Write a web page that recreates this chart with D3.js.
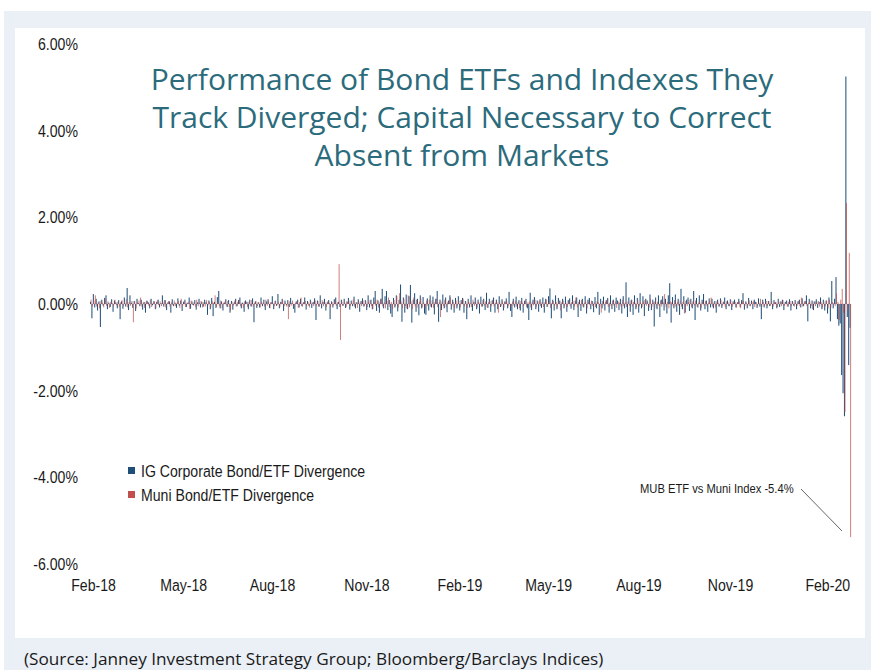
<!DOCTYPE html>
<html>
<head>
<meta charset="utf-8">
<script src="https://cdn.jsdelivr.net/npm/d3@7"></script>
<style>
  body { margin: 0; background: #fff; }
  svg { display: block; }
</style>
</head>
<body>
<div id="chart"></div>
<script>
// daily divergence (%), IG corporate bond ETF vs index, Feb-18 .. Mar-20
const igDivergence = [
  0.05,-0.33,0.23,-0.08,0.12,-0.15,0.06,-0.53,0.1,-0.04,0.14,0.2,-0.12,0.03,-0.07,0.11,-0.18,0.08,0.04,-0.1,
  0.09,-0.35,0.06,-0.11,0.15,-0.06,0.37,-0.14,0.2,0.03,-0.09,0.07,-0.16,0.12,0.02,-0.05,0.1,-0.13,0.05,-0.2,
  0.08,0.04,-0.1,0.12,-0.03,0.07,-0.12,0.05,0.1,-0.08,0.02,0.2,-0.06,0.09,-0.14,0.04,0.06,-0.2,0.11,-0.05,
  0.03,-0.09,0.13,-0.04,0.08,-0.16,0.05,0.1,-0.07,0.02,0.15,-0.11,0.06,-0.03,0.09,-0.13,0.04,0.12,-0.08,0.05,
  -0.06,0.1,0.04,-0.25,0.08,-0.12,0.14,-0.28,0.05,-0.09,0.16,0.3,-0.1,0.06,-0.15,0.03,0.11,-0.07,0.09,-0.2,
  0.07,-0.13,0.04,0.12,-0.05,0.09,0.15,-0.1,0.03,-0.18,0.08,0.05,-0.12,0.1,-0.06,0.13,-0.42,0.06,-0.09,0.04,
  -0.08,0.15,-0.05,0.1,-0.14,0.06,0.11,-0.09,0.04,0.18,-0.12,0.07,-0.04,0.23,-0.1,0.05,0.12,-0.16,0.08,-0.03,
  0.09,-0.07,0.14,0.03,-0.11,-0.2,0.06,0.1,-0.08,0.12,-0.05,0.04,0.15,-0.13,0.07,-0.04,0.1,-0.09,0.05,0.13,
  -0.37,0.08,-0.06,0.2,-0.1,0.05,0.12,-0.15,0.04,0.09,-0.35,0.06,-0.08,0.11,0.15,-0.12,0.05,-0.07,0.1,-0.04,
  0.12,-0.09,0.06,0.14,-0.13,0.08,-0.05,0.17,-0.1,0.04,0.11,-0.18,0.07,0.13,-0.06,0.09,-0.14,0.2,-0.08,0.1,
  -0.12,0.15,0.3,-0.16,0.08,-0.2,0.12,0.35,-0.1,0.18,0.3,-0.14,0.09,-0.22,-0.3,0.14,-0.08,0.2,-0.17,0.1,
  0.45,-0.41,0.15,-0.2,0.22,-0.12,0.18,0.44,-0.43,0.1,0.25,-0.18,0.12,-0.26,0.2,-0.1,0.16,-0.22,-0.25,0.13,
  -0.15,0.2,-0.08,0.17,-0.24,0.12,0.3,-0.41,0.1,-0.14,0.22,-0.1,0.15,-0.19,0.08,0.2,-0.13,0.1,-0.2,0.14,
  -0.1,0.18,-0.15,0.09,0.14,-0.2,0.07,-0.35,0.12,-0.08,0.2,-0.16,0.05,0.15,-0.12,0.1,-0.22,0.17,-0.06,0.12,
  -0.14,0.26,-0.09,0.12,-0.18,0.08,0.15,-0.2,0.1,-0.12,0.18,-0.07,0.11,-0.15,0.06,0.13,-0.1,0.28,-0.16,-0.3,
  0.12,-0.08,0.17,-0.12,0.09,-0.15,0.14,-0.2,0.07,0.12,-0.1,-0.37,0.26,-0.14,0.1,0.16,-0.12,0.08,-0.18,0.11,
  -0.09,0.15,-0.2,0.12,-0.07,0.18,0.36,-0.33,0.1,-0.15,0.2,-0.12,0.14,0.08,-0.33,0.12,-0.1,0.17,-0.18,0.09,
  0.13,-0.11,0.2,-0.14,0.08,0.15,-0.3,0.1,-0.16,0.12,-0.08,0.18,-0.22,0.1,0.14,-0.12,0.07,-0.19,0.16,-0.1,
  0.28,-0.25,0.12,-0.1,0.17,-0.15,0.09,0.14,-0.2,0.2,-0.12,0.1,-0.18,0.15,0.08,-0.14,0.12,-0.22,0.18,-0.1,
  0.5,-0.3,0.15,-0.18,0.1,-0.25,0.2,-0.12,0.14,-0.2,0.25,-0.1,0.18,-0.28,0.12,0.08,-0.16,0.22,-0.14,0.1,
  -0.52,0.15,-0.12,0.2,-0.3,0.1,0.18,-0.15,0.12,-0.22,0.2,0.48,-0.43,0.16,-0.1,0.22,-0.18,0.12,-0.25,0.35,
  -0.12,0.18,-0.2,0.1,0.15,-0.16,0.12,-0.1,0.3,-0.37,0.14,-0.08,0.2,-0.15,0.1,0.23,-0.12,0.08,-0.18,0.13,
  -0.08,0.12,-0.1,0.07,-0.2,0.1,-0.06,0.13,-0.09,0.05,0.15,-0.12,0.08,-0.05,0.11,-0.14,0.06,0.1,-0.08,0.04,
  0.12,-0.07,0.09,0.25,-0.13,0.06,-0.1,0.14,-0.05,0.08,-0.12,0.1,0.05,-0.09,0.13,-0.06,-0.35,0.1,-0.08,0.12,
  -0.1,0.07,-0.05,0.28,-0.12,0.09,0.04,-0.1,0.12,-0.07,0.06,0.1,-0.14,0.05,0.08,-0.06,0.11,-0.15,0.07,-0.04,
  0.09,-0.12,0.06,0.1,-0.08,0.13,-0.05,0.07,0.2,-0.4,0.12,-0.1,0.08,-0.14,0.06,0.11,-0.09,0.05,0.15,-0.12,
  0.1,-0.15,0.08,-0.22,0.15,-0.4,0.53,-0.1,0.12,0.62,-0.35,-0.5,-0.45,-1.64,-2.06,-2.59,5.25,-0.3,-1.41,-0.55
];

// daily divergence (%), muni bond ETF vs index
const muniDivergence = [
  0.1,-0.05,0.08,0.2,-0.06,0.04,-0.1,0.07,0.03,-0.08,0.12,-0.04,0.06,-0.09,0.05,0.02,-0.06,0.1,-0.03,0.05,
  -0.07,0.04,0.09,-0.05,0.03,0.11,-0.08,0.05,-0.04,0.07,-0.42,0.06,-0.1,0.04,0.08,0.15,-0.06,0.03,-0.09,0.05,
  0.06,-0.04,0.1,-0.07,0.03,0.05,-0.1,0.08,-0.03,0.06,-0.05,0.04,0.09,-0.08,0.02,0.07,-0.06,0.04,-0.03,0.08,
  -0.05,0.03,0.07,-0.09,0.12,-0.04,0.06,-0.07,0.03,0.05,-0.11,0.08,-0.02,0.04,-0.06,0.1,-0.05,0.03,0.07,-0.08,
  0.04,-0.06,0.09,-0.03,0.05,-0.08,0.06,0.03,0.2,-0.07,0.04,-0.05,0.08,-0.1,0.03,0.06,-0.04,0.07,-0.06,-0.15,
  0.05,-0.03,0.08,-0.06,0.04,0.1,-0.05,0.03,-0.09,0.06,0.02,-0.07,0.05,-0.04,0.09,-0.06,0.03,0.07,-0.05,0.04,
  -0.08,0.05,0.03,-0.06,0.1,-0.04,0.06,-0.1,0.04,0.02,-0.05,0.08,-0.03,0.05,-0.07,0.04,0.09,-0.05,0.03,-0.06,
  -0.35,0.06,-0.04,0.08,-0.07,0.03,0.05,-0.09,0.04,0.15,-0.06,0.03,0.07,-0.05,0.04,-0.08,0.06,0.02,-0.05,0.08,
  -0.04,0.07,-0.06,0.03,0.09,-0.05,0.04,-0.07,0.06,0.03,-0.08,0.05,-0.03,0.07,-0.05,0.04,0.92,-0.83,0.06,-0.04,
  0.05,-0.07,0.04,0.08,-0.05,0.03,0.1,-0.06,0.04,-0.09,0.06,0.03,-0.05,0.08,-0.04,0.06,-0.07,0.04,0.09,-0.05,
  -0.12,0.06,-0.04,0.1,-0.08,0.05,0.12,-0.06,0.04,-0.1,0.08,0.15,-0.07,0.05,-0.12,0.09,-0.05,0.18,-0.08,0.25,
  0.06,-0.1,0.12,-0.05,-0.1,0.2,-0.08,0.07,-0.12,0.15,-0.06,0.1,-0.09,0.05,0.13,-0.07,0.04,-0.1,0.08,-0.05,
  0.1,-0.06,0.08,-0.09,0.05,0.12,-0.07,0.04,-0.3,0.06,-0.05,0.1,-0.08,0.04,0.07,0.15,-0.06,0.05,-0.1,0.08,
  -0.05,0.07,-0.08,0.04,0.12,-0.06,0.05,-0.09,0.06,0.03,-0.07,0.1,-0.04,0.06,-0.08,0.05,0.03,-0.06,0.09,-0.04,
  0.06,-0.08,0.04,0.07,-0.05,0.1,-0.06,0.03,0.05,-0.2,0.08,-0.04,0.06,-0.09,0.04,0.07,-0.05,0.03,-0.07,0.06,
  -0.04,0.08,-0.06,0.05,-0.1,0.07,0.03,-0.05,0.09,-0.07,0.04,0.06,-0.08,0.05,-0.03,0.1,-0.06,0.04,0.07,-0.05,
  0.05,-0.07,0.04,0.1,-0.05,0.06,-0.09,0.03,0.07,-0.04,0.05,-0.08,0.06,-0.15,0.04,0.08,-0.05,0.03,-0.07,0.06,
  -0.05,0.04,0.07,-0.06,0.15,-0.08,0.05,-0.04,0.09,-0.06,0.03,0.06,-0.1,0.05,-0.03,0.08,-0.05,0.04,-0.07,0.06,
  0.04,-0.06,-0.2,0.07,-0.04,0.05,0.09,-0.07,0.03,-0.05,0.08,-0.04,0.06,-0.09,0.05,0.03,-0.06,0.1,-0.05,0.04,
  -0.07,0.06,-0.04,0.08,-0.06,0.05,0.03,-0.08,0.1,-0.05,0.04,-0.07,0.06,0.09,-0.04,0.05,-0.08,0.12,-0.06,0.04,
  0.06,-0.09,0.05,-0.04,0.08,-0.06,0.04,0.23,-0.07,0.05,-0.1,0.06,0.04,-0.05,0.09,-0.07,0.05,-0.04,0.08,-0.06,
  0.05,-0.22,0.07,-0.05,0.04,0.1,-0.07,0.06,-0.04,0.08,-0.06,0.03,0.05,-0.09,0.06,-0.04,0.07,-0.05,0.03,0.08,
  0.15,-0.06,0.04,-0.08,0.06,0.03,-0.05,0.09,-0.04,0.05,-0.07,0.06,0.04,-0.05,0.08,-0.06,0.03,0.05,-0.08,0.04,
  0.06,-0.1,0.04,0.07,-0.05,0.03,-0.06,0.08,-0.04,0.05,0.06,-0.07,0.04,-0.05,0.03,0.12,-0.06,0.05,-0.04,0.07,
  -0.05,0.06,-0.04,0.08,-0.06,0.03,0.05,-0.07,0.04,0.06,-0.05,0.09,-0.04,0.03,-0.06,0.05,0.07,-0.05,0.04,-0.06,
  0.05,-0.04,0.07,-0.05,0.15,-0.06,0.04,0.06,-0.05,0.03,0.08,-0.04,-0.12,0.06,-0.05,0.04,0.07,-0.06,0.05,-0.08,
  0.06,-0.05,0.08,-0.1,0.1,-0.08,0.05,0.02,-0.05,0.25,0.05,-0.37,0.1,0.35,-0.2,-2.49,2.33,-0.15,1.18,-5.38
];

// x-axis labels and the trading-day index they sit under
const tickLabels = ["Feb-18", "May-18", "Aug-18", "Nov-18", "Feb-19", "May-19", "Aug-19", "Nov-19", "Feb-20"];
const tickDays = [2, 66, 129, 196, 262, 325, 389, 454, 523];
const yTicks = [-6, -4, -2, 0, 2, 4, 6];

const seriesNames = ["IG Corporate Bond/ETF Divergence", "Muni Bond/ETF Divergence"];
const titleLines = ["Performance of Bond ETFs and Indexes They", "Track Diverged; Capital Necessary to Correct", "Absent from Markets"];

const W = 871, H = 670;
const margin = { top: 44, right: 20, bottom: 106, left: 90 };
// no narrow font installed, so squeeze Liberation Sans sideways
const narrow = "'Liberation Sans', Arial, sans-serif";
const squeeze = 0.83;

const svg = d3.select("#chart").append("svg")
    .attr("width", W)
    .attr("height", H);

// frame
svg.append("rect").attr("x", 4).attr("y", 11).attr("width", W - 4).attr("height", H - 11).attr("fill", "#ebf0f7");
svg.append("rect").attr("x", 15).attr("y", 28).attr("width", 850).attr("height", 610).attr("fill", "#fff");

const n = Math.min(igDivergence.length, muniDivergence.length);
const x = d3.scaleBand()
    .domain(d3.range(n))
    .range([margin.left, 851])
    .padding(0);
const y = d3.scaleLinear()
    .domain([-6, 6])
    .range([564, 44]);

const color = d3.scaleOrdinal()
    .domain(seriesNames)
    .range(["#1f4e79", "#c0504d"]);

// faint zero line
svg.append("line")
    .attr("x1", margin.left).attr("x2", 851)
    .attr("y1", y(0)).attr("y2", y(0))
    .attr("stroke", "#ecdcdc").attr("stroke-width", 1);

const bw = x.step() * 0.72;

svg.append("g").selectAll("rect")
    .data(igDivergence.slice(0, n))
    .join("rect")
    .attr("x", (d, i) => x(i))
    .attr("width", bw)
    .attr("y", d => y(Math.max(0, d)))
    .attr("height", d => Math.abs(y(d) - y(0)))
    .attr("fill", color(seriesNames[0]));

svg.append("g").selectAll("rect")
    .data(muniDivergence.slice(0, n))
    .join("rect")
    .attr("x", (d, i) => x(i) + x.step() * 0.45)
    .attr("width", bw * 0.85)
    .attr("y", d => y(Math.max(0, d)))
    .attr("height", d => Math.abs(y(d) - y(0)))
    .attr("fill", color(seriesNames[1]))
    .attr("fill-opacity", 0.85);

// y axis labels
const yAxis = svg.append("g")
    .attr("transform", "translate(78,0)")
    .call(d3.axisLeft(y).tickValues(yTicks).tickSize(0).tickPadding(0).tickFormat(d => d.toFixed(2) + "%"));
yAxis.select(".domain").remove();
yAxis.selectAll("text")
    .attr("transform", `scale(${squeeze},1)`)
    .attr("font-family", narrow)
    .attr("font-size", 17)
    .attr("fill", "#1a1a1a");

// x axis labels
const xAxis = svg.append("g")
    .attr("transform", "translate(0,575)")
    .call(d3.axisBottom(x).tickValues(tickDays).tickSize(0).tickPadding(4)
        .tickFormat(d => tickLabels[tickDays.indexOf(d)]));
xAxis.select(".domain").remove();
xAxis.selectAll("text")
    .attr("transform", `scale(${squeeze},1)`)
    .attr("font-family", narrow)
    .attr("font-size", 17)
    .attr("fill", "#1a1a1a");

// title
svg.append("text")
    .attr("x", 462)
    .attr("y", 90)
    .attr("text-anchor", "middle")
    .attr("font-family", "'Open Sans', 'Noto Sans', sans-serif")
    .attr("font-size", 30)
    .attr("fill", "#2b6b7c")
    .selectAll("tspan")
    .data(titleLines)
    .join("tspan")
    .attr("x", 462)
    .attr("dy", (d, i) => i === 0 ? 0 : 38)
    .text(d => d);

// legend
const legend = svg.append("g").attr("transform", "translate(128,466)");
legend.selectAll("rect")
    .data(seriesNames)
    .join("rect")
    .attr("x", 0)
    .attr("y", (d, i) => i * 24 + 1)
    .attr("width", 7)
    .attr("height", 7)
    .attr("fill", d => color(d));
legend.selectAll("text")
    .data(seriesNames)
    .join("text")
    .attr("transform", (d, i) => `translate(13,${i * 24 + 11}) scale(${squeeze},1)`)
    .attr("font-family", narrow)
    .attr("font-size", 17)
    .attr("fill", "#1a1a1a")
    .text(d => d);

// annotation for the muni low
svg.append("text")
    .attr("transform", `translate(640,493) scale(${squeeze},1)`)
    .attr("font-family", narrow)
    .attr("font-size", 13.5)
    .attr("fill", "#1a1a1a")
    .text("MUB ETF vs Muni Index -5.4%");
svg.append("line")
    .attr("x1", 801).attr("y1", 489)
    .attr("x2", 842).attr("y2", 531)
    .attr("stroke", "#666").attr("stroke-width", 1);

// source note
svg.append("text")
    .attr("x", 24)
    .attr("y", 665)
    .attr("font-family", "'Open Sans', 'Noto Sans', sans-serif")
    .attr("font-size", 17.2)
    .attr("fill", "#1a1a1a")
    .text("(Source: Janney Investment Strategy Group; Bloomberg/Barclays Indices)");
</script>
</body>
</html>
